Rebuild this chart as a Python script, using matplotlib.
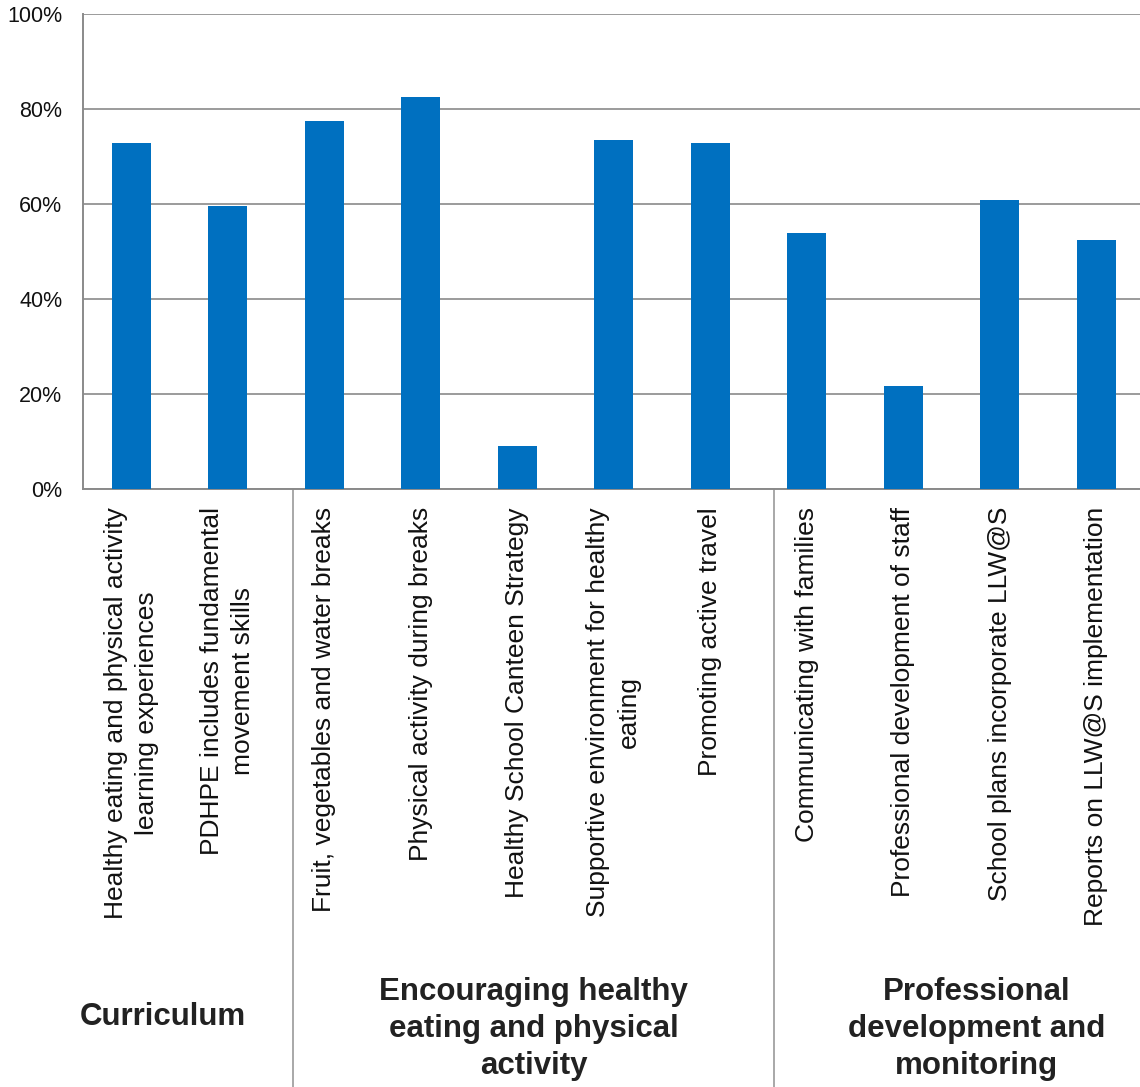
import matplotlib
matplotlib.use("Agg")
import matplotlib.pyplot as plt
import matplotlib.transforms as mtransforms

plt.rcParams['font.family'] = ['Liberation Sans', 'DejaVu Sans']

categories = [
    "Healthy eating and physical activity\nlearning experiences",
    "PDHPE includes fundamental\nmovement skills",
    "Fruit, vegetables and water breaks",
    "Physical activity during breaks",
    "Healthy School Canteen Strategy",
    "Supportive environment for healthy\neating",
    "Promoting active travel",
    "Communicating with families",
    "Professional development of staff",
    "School plans incorporate LLW@S",
    "Reports on LLW@S implementation",
]
values = [72.8, 59.5, 77.4, 82.4, 9.0, 73.4, 72.8, 53.8, 21.7, 60.8, 52.4]
yticks = [0, 20, 40, 60, 80, 100]
ytick_labels = ["0%", "20%", "40%", "60%", "80%", "100%"]
groups = ["Curriculum",
          "Encouraging healthy\neating and physical\nactivity",
          "Professional\ndevelopment and\nmonitoring"]

# layout (not data)
group_label_x = [0.33, 4.17, 8.76]
group_label_y = [1017, 1029, 1029]  # pixel rows (from top)
separator_x = [1.675, 6.66]

W, H = 1140, 1087
fig = plt.figure(figsize=(W / 100, H / 100), dpi=100)
ax_left, ax_bottom = 83 / W, (H - 489) / H
ax_w, ax_h = 1061.5 / W, 475.5 / H
ax = fig.add_axes([ax_left, ax_bottom, ax_w, ax_h])

x = list(range(len(categories)))
ax.bar(x, values, width=0.405, color='#0070C0', zorder=3)

ax.set_xlim(-0.5, len(categories) - 0.5)
ax.set_ylim(0, 100)
ax.set_yticks(yticks)
ax.set_yticklabels(ytick_labels, fontsize=15.5, color='#111111')
ax.tick_params(axis='y', length=0, pad=15)
ax.yaxis.grid(True, color='#8a8a8a', linewidth=1.2, zorder=0)
ax.set_axisbelow(True)

ax.set_xticks(x)
ax.set_xticklabels(categories, rotation=90, fontsize=19, color='#111111',
                   multialignment='center', linespacing=1.35)
ax.tick_params(axis='x', length=0, pad=13)

for s in ['top', 'right']:
    ax.spines[s].set_visible(False)
for s in ['left', 'bottom']:
    ax.spines[s].set_color('#8a8a8a')
    ax.spines[s].set_linewidth(1.4)

# group separators
trans = mtransforms.blended_transform_factory(ax.transData, ax.transAxes)
ybot = -(H - 489) / 475.5
for sx in separator_x:
    ax.plot([sx, sx], [0, ybot], transform=trans, color='#9a9a9a',
            linewidth=1.2, clip_on=False)

for gx, gy, g in zip(group_label_x, group_label_y, groups):
    ya = (489 - gy) / 475.5
    ax.text(gx, ya, g, transform=trans, ha='center', va='center',
            fontsize=22.5, fontweight='bold', color='#222222',
            multialignment='center', linespacing=1.32)

fig.savefig("out.png", dpi=100)
